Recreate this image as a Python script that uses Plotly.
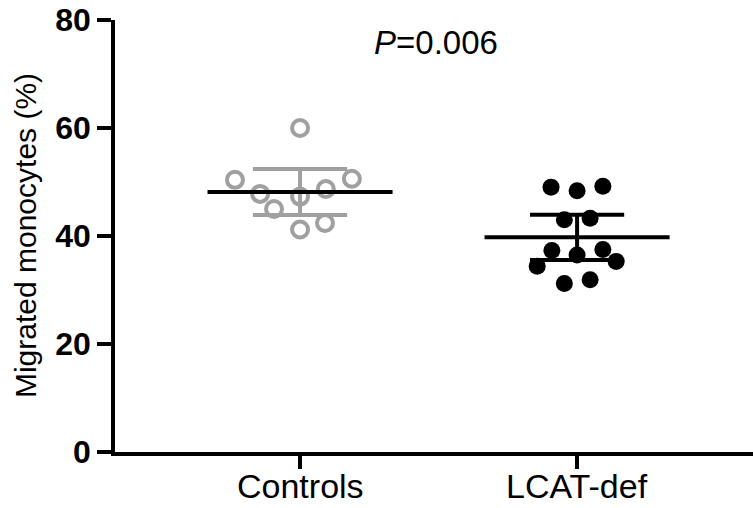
import numpy as np
import plotly.graph_objects as go

# ---- data -------------------------------------------------------------
categories = ["Controls", "LCAT-def"]

controls_values = [60.0, 50.4, 50.6, 47.8, 47.3, 48.7, 45.0, 42.4, 41.2]
lcat_values = [49.05, 48.4, 49.2, 43.0, 43.3, 37.3, 36.5, 37.5, 34.4, 35.3, 31.2, 31.9]

y_ticks = [0, 20, 40, 60, 80]
p_label = "<i>P</i>=0.006"

# ---- styling / layout helpers -----------------------------------------
# horizontal scatter of the dots within each column (category units)
controls_spread = [0.0, -0.235, 0.187, -0.144, 0.0, 0.093, -0.094, 0.09, 0.0]
lcat_spread = [-0.094, 0.0, 0.093, -0.046, 0.047, -0.091, 0.0, 0.093, -0.144, 0.141, -0.046, 0.047]

# two-sided 95% t critical values for n-1 degrees of freedom
t_crit = {8: 2.306, 11: 2.201}

GRAY = "#a0a0a0"
BLACK = "#000000"
FONT = "Liberation Sans, Arial, Helvetica, sans-serif"
MEAN_HALF = 0.334
CAP_HALF = 0.17
LW = 4

fig = go.Figure()


def add_group(idx, values, spread, marker, err_color):
    vals = np.asarray(values, dtype=float)
    n = len(vals)
    mean = vals.mean()
    ci = t_crit[n - 1] * vals.std(ddof=1) / np.sqrt(n)
    xs = [idx + s for s in spread]

    fig.add_trace(go.Scatter(x=xs, y=vals, mode="markers", marker=marker,
                             showlegend=False, hoverinfo="y"))
    # error bar: stem and caps
    fig.add_trace(go.Scatter(
        x=[idx, idx, None, idx - CAP_HALF, idx + CAP_HALF, None, idx - CAP_HALF, idx + CAP_HALF],
        y=[mean - ci, mean + ci, None, mean + ci, mean + ci, None, mean - ci, mean - ci],
        mode="lines", line=dict(color=err_color, width=LW),
        showlegend=False, hoverinfo="skip"))
    # mean line
    fig.add_trace(go.Scatter(
        x=[idx - MEAN_HALF, idx + MEAN_HALF], y=[mean, mean],
        mode="lines", line=dict(color=BLACK, width=LW),
        showlegend=False, hoverinfo="skip"))


add_group(0, controls_values, controls_spread,
          dict(symbol="circle-open", size=16, color=GRAY, line=dict(color=GRAY, width=4)),
          GRAY)
add_group(1, lcat_values, lcat_spread,
          dict(symbol="circle", size=17, color=BLACK, line=dict(width=0)),
          BLACK)

fig.add_annotation(x=0.49, y=75.8, xref="x", yref="y", text=p_label,
                   showarrow=False, font=dict(family=FONT, size=33, color=BLACK))

# category labels under the ticks
for i, name in enumerate(categories):
    fig.add_annotation(x=i, y=-0.078, xref="x", yref="paper",
                       xanchor="center", yanchor="middle", text=name,
                       showarrow=False, font=dict(family=FONT, size=34, color=BLACK))

fig.add_annotation(x=-0.141, y=0.5, xref="paper", yref="paper",
                   xanchor="center", yanchor="middle",
                   text="Migrated monocytes (%)", textangle=-90, showarrow=False,
                   font=dict(family=FONT, size=30, color=BLACK))

fig.update_layout(
    width=753, height=508,
    margin=dict(l=115, r=0, t=20, b=56, autoexpand=False),
    paper_bgcolor="white", plot_bgcolor="white",
    font=dict(family=FONT, color=BLACK),
    showlegend=False,
)

fig.update_xaxes(
    range=[-0.668, 1.635], automargin=False,
    tickmode="array", tickvals=[0, 1], ticktext=["", ""],
    ticks="outside", ticklen=13, tickwidth=3.5, tickcolor=BLACK,
    showline=True, linecolor=BLACK, linewidth=3.5,
    showgrid=False, zeroline=False,
)
fig.update_yaxes(
    range=[0, 80], automargin=False,
    tickmode="array", tickvals=y_ticks, ticktext=[str(v) for v in y_ticks],
    tickfont=dict(family=FONT, size=32, color=BLACK, weight="bold"),
    ticks="outside", ticklen=14, tickwidth=3.5, tickcolor=BLACK,
    showline=True, linecolor=BLACK, linewidth=3.5,
    showgrid=False, zeroline=False,
)

fig.write_html("out.html")
